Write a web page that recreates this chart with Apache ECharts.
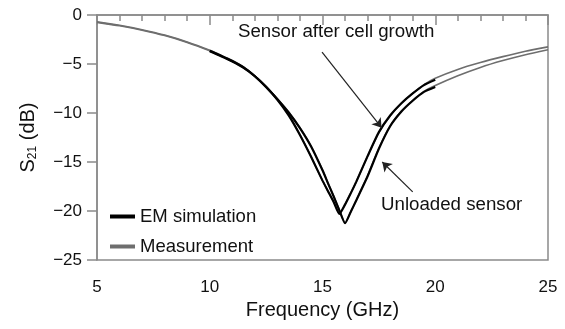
<!DOCTYPE html>
<html>
<head>
<meta charset="utf-8">
<script src="https://cdn.jsdelivr.net/npm/echarts@6/dist/echarts.min.js"></script>
<style>
  html, body { margin: 0; padding: 0; background: #fff; }
  #chart { width: 565px; height: 329px; }
</style>
</head>
<body>
<div id="chart"></div>
<script>
// measured S21, 5-25 GHz
var measFreq = [5, 6, 7, 8, 9, 10, 10.5, 11, 11.5, 12, 12.5, 13, 13.5, 14, 14.5, 15, 15.25, 15.5, 15.75, 16, 16.25, 16.5, 17, 17.5, 18, 18.5, 19, 19.5, 20, 21, 22, 23, 24, 25];
var measGrowth = [-0.7, -1.05, -1.5, -2.05, -2.75, -3.6, -4.1, -4.65, -5.3, -6.2, -7.3, -8.6, -10.2, -12.2, -14.5, -16.9, -18.0, -19.1, -20.2, -19.3, -18.2, -17.0, -14.4, -12.0, -10.3, -9.0, -8.0, -7.1, -6.45, -5.55, -4.85, -4.25, -3.7, -3.25];
var measUnloaded = [-0.75, -1.1, -1.55, -2.1, -2.8, -3.65, -4.15, -4.7, -5.35, -6.2, -7.3, -8.55, -9.9, -11.5, -13.4, -15.8, -17.2, -18.5, -19.9, -21.2, -20.1, -18.9, -16.4, -13.6, -11.3, -9.8, -8.7, -7.8, -7.2, -6.2, -5.35, -4.65, -4.05, -3.55];

// EM simulation, 10-20 GHz
var simFreq = [10, 10.5, 11, 11.5, 12, 12.5, 13, 13.5, 14, 14.5, 15, 15.25, 15.5, 15.75, 16, 16.25, 16.5, 17, 17.5, 18, 18.5, 19, 19.5, 20];
var simGrowth = [-3.65, -4.15, -4.7, -5.35, -6.25, -7.35, -8.65, -10.25, -12.25, -14.5, -16.9, -18.0, -19.1, -20.3, -19.35, -18.2, -17.0, -14.4, -11.95, -10.25, -9.0, -8.0, -7.15, -6.6];
var simUnloaded = [-3.7, -4.2, -4.75, -5.4, -6.25, -7.35, -8.6, -9.95, -11.55, -13.45, -15.85, -17.2, -18.55, -19.95, -21.25, -20.1, -18.9, -16.45, -13.65, -11.35, -9.85, -8.75, -7.85, -7.35];

var xTicks = [5, 10, 15, 20, 25];
var yTicks = [-25, -20, -15, -10, -5, 0];

// arrows: [from, to] in GHz / dB
var arrowGrowth = [[14.98, -3.8], [17.62, -11.5]];
var arrowUnloaded = [[19.0, -18.05], [17.65, -15.0]];

function pairs(xs, ys) {
  return xs.map(function (x, i) { return [x, ys[i]]; });
}

var font = '"Liberation Sans", Arial, Helvetica, sans-serif';
var axisGray = '#8a8a8a';

var chart = echarts.init(document.getElementById('chart'), null, { renderer: 'canvas' });

function arrowLine(a) {
  return [{ coord: a[0], symbol: 'none' }, { coord: a[1], symbol: 'arrow' }];
}

var option = {
  backgroundColor: '#fff',
  animation: false,
  textStyle: { fontFamily: font },
  grid: {
    left: 97, right: 17, top: 15, bottom: 69,
    show: true, borderColor: axisGray, borderWidth: 1.5
  },
  legend: {
    left: 105, top: 202, orient: 'vertical',
    icon: 'rect', itemWidth: 25, itemHeight: 4, itemGap: 11,
    textStyle: { fontSize: 18.5, color: '#111', fontFamily: font },
    data: ['EM simulation', 'Measurement']
  },
  xAxis: {
    type: 'value', min: xTicks[0], max: xTicks[xTicks.length - 1], interval: 5,
    name: 'Frequency (GHz)', nameLocation: 'middle', nameGap: 39,
    nameTextStyle: { fontSize: 20, color: '#111', fontFamily: font },
    axisLine: { lineStyle: { color: axisGray, width: 1.5 } },
    axisTick: { length: 10, lineStyle: { color: axisGray, width: 1.5 } },
    minorTick: { show: true, splitNumber: 5, length: 6, lineStyle: { color: axisGray, width: 1.5 } },
    axisLabel: { fontSize: 17, color: '#111', margin: 19 },
    splitLine: { show: false }
  },
  yAxis: {
    type: 'value', min: yTicks[0], max: yTicks[yTicks.length - 1], interval: 5,
    name: '{a|S}{b|21}{a| (dB)}', nameLocation: 'middle', nameGap: 58, nameRotate: 90,
    nameTextStyle: {
      color: '#111', fontFamily: font,
      rich: {
        a: { fontSize: 20, color: '#111', fontFamily: font },
        b: { fontSize: 12, color: '#111', fontFamily: font, verticalAlign: 'bottom', padding: [10, 0, 0, 0] }
      }
    },
    axisLine: { show: true, lineStyle: { color: axisGray, width: 1.5 } },
    axisTick: { show: true, length: 10, lineStyle: { color: axisGray, width: 1.5 } },
    axisLabel: {
      fontSize: 17, color: '#111', margin: 15,
      formatter: function (v) { return v < 0 ? '\u2212' + Math.abs(v) : String(v); }
    },
    splitLine: { show: false }
  },
  series: [
    {
      name: 'Measurement', type: 'line', data: pairs(measFreq, measGrowth),
      showSymbol: false, smooth: 0.2, color: '#6e6e6e',
      lineStyle: { width: 1.6, color: '#6e6e6e' }, z: 2,
      markLine: {
        silent: true, animation: false,
        symbolSize: 9,
        label: { show: false },
        lineStyle: { color: '#222', width: 1.2, type: 'solid' },
        data: [arrowLine(arrowGrowth), arrowLine(arrowUnloaded)]
      }
    },
    {
      name: 'Measurement', type: 'line', data: pairs(measFreq, measUnloaded),
      showSymbol: false, smooth: 0.2, color: '#6e6e6e',
      lineStyle: { width: 1.6, color: '#6e6e6e' }, z: 2
    },
    {
      name: 'EM simulation', type: 'line', data: pairs(simFreq, simGrowth),
      showSymbol: false, smooth: 0.2, color: '#000',
      lineStyle: { width: 2.2, color: '#000' }, z: 3
    },
    {
      name: 'EM simulation', type: 'line', data: pairs(simFreq, simUnloaded),
      showSymbol: false, smooth: 0.2, color: '#000',
      lineStyle: { width: 2.2, color: '#000' }, z: 3
    }
  ],
  graphic: [
    {
      type: 'text', left: 238, top: 22,
      style: { text: 'Sensor after cell growth', font: '18.7px ' + font, fill: '#111' }
    },
    {
      type: 'text', left: 381, top: 195,
      style: { text: 'Unloaded sensor', font: '18.7px ' + font, fill: '#111' }
    }
  ]
};

chart.setOption(option);
</script>
</body>
</html>
